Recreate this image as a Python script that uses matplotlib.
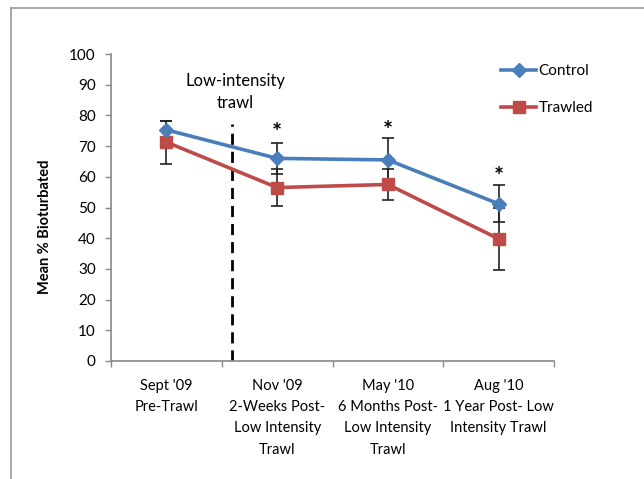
import matplotlib
matplotlib.use("Agg")
import matplotlib.pyplot as plt
from matplotlib.lines import Line2D

plt.rcParams['font.family'] = ['Lato', 'DejaVu Sans']

categories = ["Sept '09\nPre-Trawl",
              "Nov '09\n2-Weeks Post-\nLow Intensity\nTrawl",
              "May '10\n6 Months Post-\nLow Intensity\nTrawl",
              "Aug '10\n1 Year Post- Low\nIntensity Trawl"]
control = [75.3, 66.0, 65.5, 51.2]
control_err = [3.0, 5.0, 7.0, 6.0]
trawled = [71.3, 56.5, 57.5, 39.8]
trawled_err = [7.0, 6.0, 5.2, 10.0]
star_idx = [1, 2, 3]
star_y = [74.0, 74.7, 59.9]
trawl_event_x = 0.59
trawl_event_top = 77.3

W, H = 644, 479
fig = plt.figure(figsize=(W / 100, H / 100), dpi=100)
ax = fig.add_axes([111 / W, 1 - 361 / H, (554 - 111) / W, (361 - 54) / H])

x = list(range(len(categories)))
c_blue = '#4A7EBB'
c_red = '#BE4B48'

ax.errorbar(x, control, yerr=control_err, fmt='none', ecolor='#222222',
            elinewidth=1.2, capsize=4, capthick=1.2, zorder=2)
ax.errorbar(x, trawled, yerr=trawled_err, fmt='none', ecolor='#222222',
            elinewidth=1.2, capsize=4, capthick=1.2, zorder=2)
ax.plot(x, control, color=c_blue, lw=2.6, marker='D', ms=7.5,
        mec=c_blue, mfc=c_blue, zorder=4, label='Control')
ax.plot(x, trawled, color=c_red, lw=2.6, marker='s', ms=8.5,
        mec=c_red, mfc=c_red, zorder=3, label='Trawled')

ax.plot([trawl_event_x, trawl_event_x], [0, trawl_event_top], color='black',
        lw=2.0, ls=(0, (4, 2.5)), zorder=1)
ax.text(trawl_event_x + 0.03, 81.4, 'Low-intensity\ntrawl', ha='center', va='bottom',
        fontsize=12, linespacing=1.5)

for i, yv in zip(star_idx, star_y):
    ax.text(i, yv, '*', ha='center', va='center', fontsize=17, fontweight='bold')

ax.set_xlim(-0.5, 3.5)
ax.set_ylim(0, 100)
ax.set_yticks(range(0, 101, 10))
ax.set_xticks(x)
ax.set_xticklabels(categories, fontsize=10.5, linespacing=1.65, va='top')
ax.set_xticks([-0.5, 0.5, 1.5, 2.5, 3.5], minor=True)
ax.tick_params(axis='x', which='major', length=0, pad=13)
ax.tick_params(axis='x', which='minor', length=4, color='#888888', width=1)
ax.tick_params(axis='y', length=4, color='#888888', width=1, labelsize=11, pad=7)
for s in ['top', 'right']:
    ax.spines[s].set_visible(False)
for s in ['left', 'bottom']:
    ax.spines[s].set_color('#888888')
    ax.spines[s].set_linewidth(1.2)

fig.text(45 / W, 1 - 227 / H, 'Mean % Bioturbated', rotation=90, ha='center',
         va='center', fontsize=10.5, fontweight='bold')

leg = ax.legend(loc='upper left', bbox_to_anchor=(501 / W, 1 - 64 / H),
                bbox_transform=fig.transFigure, frameon=False, fontsize=11,
                handlelength=2.3, handletextpad=0.15, labelspacing=1.5,
                borderpad=0, borderaxespad=0)

fig.add_artist(Line2D([11 / W, 11 / W], [0, 1 - 8 / H], transform=fig.transFigure,
                      color='#A0A0A0', lw=1.3))
fig.add_artist(Line2D([11 / W, 1], [1 - 8 / H, 1 - 8 / H], transform=fig.transFigure,
                      color='#A0A0A0', lw=1.3))

fig.savefig('out.png', dpi=100)
